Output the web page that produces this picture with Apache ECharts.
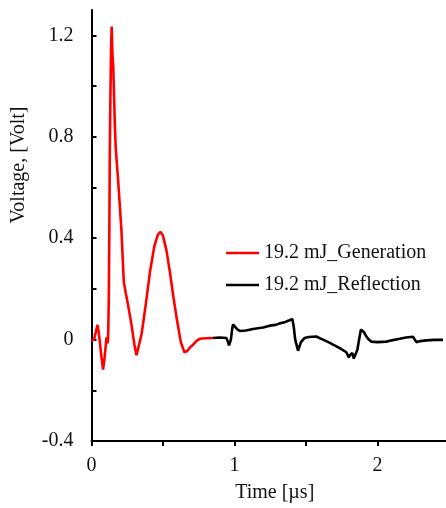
<!DOCTYPE html>
<html>
<head>
<meta charset="utf-8">
<script src="https://cdn.jsdelivr.net/npm/echarts@6/dist/echarts.min.js"></script>
<style>
html,body{margin:0;padding:0;background:#fff;}
#chart{width:446px;height:508px;}
</style>
</head>
<body>
<div id="chart"></div>
<script>
// ---- data ----
var genName = "19.2 mJ_Generation";
var refName = "19.2 mJ_Reflection";

var genTime = [0,0.018,0.03,0.042,0.05,0.058,0.07,0.081,0.09,0.098,0.105,0.112,0.116,0.121,0.125,0.128,0.132,0.137,0.141,0.144,0.147,0.152,0.156,0.163,0.17,0.186,0.209,0.226,0.241,0.256,0.28,0.3,0.315,0.326,0.35,0.38,0.41,0.44,0.465,0.483,0.5,0.525,0.55,0.575,0.6,0.625,0.65,0.67,0.69,0.711,0.735,0.757,0.8,0.85];
var genVolt = [-0.005,0,0.03,0.058,0.03,-0.007,-0.07,-0.118,-0.08,-0.033,0.009,-0.015,0.0,0.16,0.45,0.73,0.95,1.15,1.235,1.235,1.118,1.08,1.0,0.85,0.75,0.63,0.435,0.227,0.18,0.136,0.058,-0.02,-0.062,-0.059,0.02,0.14,0.27,0.37,0.415,0.425,0.41,0.35,0.26,0.16,0.07,-0.01,-0.05,-0.045,-0.03,-0.02,-0.005,0.003,0.005,0.006];

var refTime = [0.85,0.897,0.944,0.955,0.962,0.975,0.985,0.99,1.005,1.02,1.037,1.08,1.13,1.2,1.247,1.29,1.317,1.35,1.38,1.405,1.415,1.425,1.445,1.465,1.49,1.52,1.573,1.6,1.65,1.69,1.74,1.783,1.8,1.81,1.825,1.835,1.845,1.86,1.875,1.885,1.895,1.905,1.923,1.94,1.958,2.0,2.063,2.1,2.156,2.2,2.249,2.26,2.273,2.3,2.343,2.4,2.459];
var refVolt = [0.006,0.008,0.006,-0.01,-0.023,0.0,0.045,0.06,0.05,0.04,0.034,0.036,0.042,0.048,0.055,0.058,0.064,0.068,0.075,0.081,0.05,0.0,-0.044,-0.01,0.006,0.01,0.012,0.005,-0.008,-0.02,-0.035,-0.05,-0.07,-0.06,-0.053,-0.075,-0.07,-0.04,0.01,0.04,0.045,0.03,0.012,0.0,-0.008,-0.01,-0.008,-0.003,0.003,0.008,0.011,0.005,-0.01,-0.006,-0.003,-0.001,-0.001];

var xTicks = [0,0.5,1,1.5,2];
var xLabels = [0,1,2];
var yTicks = [-0.4,-0.2,0,0.2,0.4,0.6,0.8,1.0,1.2];
var yLabels = [-0.4,0,0.4,0.8,1.2];

function zip(a,b){var r=[];for(var i=0;i<a.length;i++){r.push([a[i],b[i]]);}return r;}

var FONT = "'Liberation Serif','Times New Roman',serif";
var TXT = '#111';
var chart = echarts.init(document.getElementById('chart'), null, {renderer:'canvas'});
chart.setOption({
  backgroundColor:'#fff',
  animation:false,
  grid:{left:91.5,right:0,top:10,bottom:64.5,containLabel:false},
  legend:{
    left:221, top:238, orient:'vertical', itemGap:12,
    itemWidth:33, itemHeight:2.6, icon:'rect',
    textStyle:{fontFamily:FONT,fontSize:20,color:TXT},
    data:[genName,refName]
  },
  xAxis:{
    type:'value', min:0, max:2.48, interval:0.5,
    name:'Time [\u00b5s]', nameLocation:'middle', nameGap:42,
    nameTextStyle:{fontFamily:FONT,fontSize:20,color:TXT,padding:[0,0,0,12]},
    axisLine:{onZero:false,lineStyle:{color:'#000',width:2}},
    axisTick:{show:true,inside:false,length:5,lineStyle:{color:'#000',width:2},customValues:xTicks},
    axisLabel:{fontFamily:FONT,fontSize:20,color:TXT,margin:15,customValues:xLabels,
      formatter:function(v){return String(v);}},
    splitLine:{show:false}
  },
  yAxis:{
    type:'value', min:-0.4, max:1.3, interval:0.2,
    axisLine:{show:true,onZero:false,lineStyle:{color:'#000',width:2}},
    axisTick:{show:true,inside:true,length:5,lineStyle:{color:'#000',width:2},customValues:yTicks},
    axisLabel:{fontFamily:FONT,fontSize:20,color:TXT,margin:18,customValues:yLabels,
      formatter:function(v){return v===0?'0':(Math.round(v*10)/10).toFixed(1);}},
    splitLine:{show:false}
  },
  graphic:[{
    type:'text', x:19, y:165, rotation:Math.PI/2,
    style:{text:'Voltage, [Volt]',font:'20px '+FONT,fill:TXT,align:'center',verticalAlign:'middle'}
  }],
  series:[
    {name:genName,type:'line',data:zip(genTime,genVolt),symbol:'none',showSymbol:false,
      lineStyle:{color:'#ff0000',width:2.6},itemStyle:{color:'#ff0000'}},
    {name:refName,type:'line',data:zip(refTime,refVolt),symbol:'none',showSymbol:false,
      lineStyle:{color:'#000',width:2.6},itemStyle:{color:'#000'}}
  ]
});
</script>
</body>
</html>
